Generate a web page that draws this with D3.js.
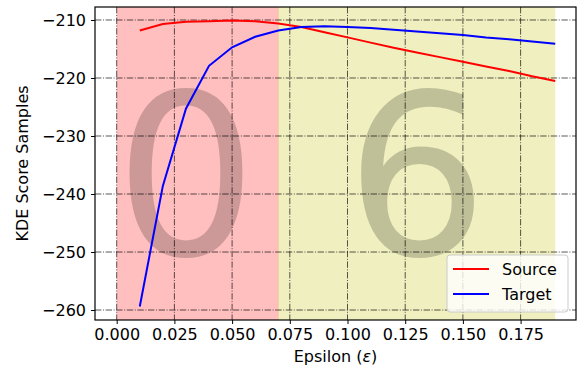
<!DOCTYPE html>
<html>
<head>
<meta charset="utf-8">
<script src="https://cdn.jsdelivr.net/npm/d3@7/dist/d3.min.js"></script>
<style>
  body { margin: 0; background: #fff; }
  text { font-family: "DejaVu Sans", sans-serif; }
</style>
</head>
<body>
<div id="chart"></div>
<script>
var w = 580,
    h = 375,
    margin = {left: 95, right: 4, top: 7, bottom: 55};

// data
var epsilon = [0.01, 0.02, 0.03, 0.04, 0.05, 0.06, 0.07, 0.08, 0.09, 0.10,
               0.11, 0.12, 0.13, 0.14, 0.15, 0.16, 0.17, 0.18, 0.19];
var source = [-211.8, -210.7, -210.3, -210.2, -210.1, -210.2, -210.6, -211.2, -212.1, -213.0,
              -213.9, -214.8, -215.6, -216.4, -217.2, -218.0, -218.8, -219.7, -220.5];
var target = [-259.4, -238.6, -225.3, -217.9, -214.7, -212.9, -211.8, -211.2, -211.1, -211.2,
              -211.4, -211.7, -212.0, -212.3, -212.6, -213.0, -213.3, -213.7, -214.1];
var xTicks = [0, 0.025, 0.05, 0.075, 0.1, 0.125, 0.15, 0.175];
var yTicks = [-210, -220, -230, -240, -250, -260];
var spans = [{'from': 0, 'to': 0.07, 'color': '#ffbfbf', 'label': '0', 'at': 0.03},
             {'from': 0.07, 'to': 0.19, 'color': '#efefbf', 'label': '6', 'at': 0.13}];
var series = [{'name': 'Source', 'color': '#ff0000', 'values': source},
              {'name': 'Target', 'color': '#0000ff', 'values': target}];

var x = d3.scaleLinear().domain([-0.0094, 0.199]).range([margin.left, w - margin.right]);
var y = d3.scaleLinear().domain([-261.72, -207.76]).range([h - margin.bottom, margin.top]);
var minus = function(v){ return String(v).replace('-', '\u2212'); };

var svg = d3.select('#chart').append('svg')
    .attr('width', w)
    .attr('height', h);

// shaded regions
svg.selectAll('rect.span')
    .data(spans)
  .enter().append('rect')
    .attr('class', 'span')
    .attr('x', function(d){ return x(d.from); })
    .attr('y', margin.top)
    .attr('width', function(d){ return x(d.to) - x(d.from); })
    .attr('height', h - margin.bottom - margin.top)
    .style('fill', function(d){ return d.color; });

svg.append('line')
    .attr('x1', x(0.07)).attr('x2', x(0.07))
    .attr('y1', margin.top).attr('y2', h - margin.bottom)
    .style('stroke', '#f5c890')
    .style('stroke-width', 1);

// big digits
svg.selectAll('text.digit')
    .data(spans)
  .enter().append('text')
    .attr('class', 'digit')
    .attr('x', function(d){ return x(d.at); })
    .attr('y', y(-250.5))
    .attr('text-anchor', 'middle')
    .style('font-size', '224px')
    .style('fill', '#000')
    .style('fill-opacity', 0.2)
    .text(function(d){ return d.label; });

// grid
var grid = svg.append('g')
    .style('stroke', '#000')
    .style('stroke-opacity', 0.65)
    .style('stroke-width', 1)
    .style('stroke-dasharray', '6.4,1.6,1,1.6');

grid.selectAll('line.gx')
    .data(xTicks)
  .enter().append('line')
    .attr('x1', function(d){ return x(d); })
    .attr('x2', function(d){ return x(d); })
    .attr('y1', margin.top)
    .attr('y2', h - margin.bottom);

grid.selectAll('line.gy')
    .data(yTicks)
  .enter().append('line')
    .attr('y1', function(d){ return y(d); })
    .attr('y2', function(d){ return y(d); })
    .attr('x1', margin.left)
    .attr('x2', w - margin.right);

// lines
var line = d3.line()
    .x(function(d, i){ return x(epsilon[i]); })
    .y(function(d){ return y(d); });

svg.selectAll('path.series')
    .data(series)
  .enter().append('path')
    .attr('class', 'series')
    .attr('d', function(d){ return line(d.values); })
    .style('fill', 'none')
    .style('stroke', function(d){ return d.color; })
    .style('stroke-width', 2);

// axes
var xAxis = svg.append('g')
    .attr('transform', 'translate(0,' + (h - margin.bottom) + ')')
    .call(d3.axisBottom(x).tickValues(xTicks).tickFormat(d3.format('.3f')).tickSize(4).tickPadding(5));
var yAxis = svg.append('g')
    .attr('transform', 'translate(' + margin.left + ',0)')
    .call(d3.axisLeft(y).tickValues(yTicks).tickFormat(minus).tickSize(4).tickPadding(5));

[xAxis, yAxis].forEach(function(a){
    a.select('.domain').remove();
    a.selectAll('text')
        .style('font-family', '"DejaVu Sans", sans-serif')
        .style('font-size', '16px')
        .style('fill', '#000');
    a.selectAll('line').style('stroke', '#000');
});

svg.append('rect')
    .attr('x', margin.left)
    .attr('y', margin.top)
    .attr('width', w - margin.left - margin.right)
    .attr('height', h - margin.top - margin.bottom)
    .style('fill', 'none')
    .style('stroke', '#000')
    .style('stroke-width', 1.2);

// axis labels
var xlab = svg.append('text')
    .attr('x', (margin.left + w - margin.right) / 2)
    .attr('y', 362)
    .attr('text-anchor', 'middle')
    .style('font-size', '16px');
xlab.append('tspan').text('Epsilon (');
xlab.append('tspan').style('font-style', 'italic').text('\u03b5');
xlab.append('tspan').text(')');

svg.append('text')
    .attr('transform', 'translate(28,' + ((margin.top + h - margin.bottom) / 2) + ') rotate(-90)')
    .attr('text-anchor', 'middle')
    .style('font-size', '16px')
    .text('KDE Score Samples');

// legend
var legend = svg.append('g')
    .attr('transform', 'translate(447,255)');

legend.append('rect')
    .attr('width', 121)
    .attr('height', 57)
    .attr('rx', 3)
    .style('fill', '#fff')
    .style('fill-opacity', 0.8)
    .style('stroke', '#ccc')
    .style('stroke-width', 1);

var item = legend.selectAll('g.item')
    .data(series)
  .enter().append('g')
    .attr('class', 'item')
    .attr('transform', function(d, i){ return 'translate(0,' + (14 + i * 25) + ')'; });

item.append('line')
    .attr('x1', 6).attr('x2', 42)
    .style('stroke', function(d){ return d.color; })
    .style('stroke-width', 2);

item.append('text')
    .attr('x', 55)
    .attr('y', 6)
    .style('font-size', '16px')
    .text(function(d){ return d.name; });
</script>
</body>
</html>
